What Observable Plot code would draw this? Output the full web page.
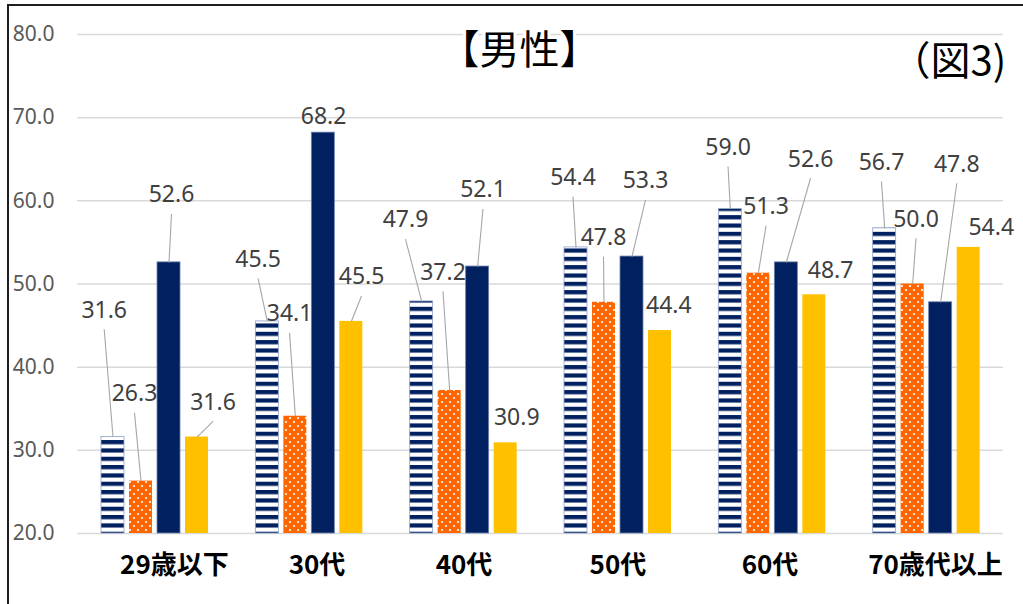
<!DOCTYPE html>
<html>
<head>
<meta charset="utf-8">
<script src="https://cdn.jsdelivr.net/npm/d3@7"></script>
<script src="https://cdn.jsdelivr.net/npm/@observablehq/plot@0.6"></script>
<style>
  body { margin: 0; background: #fff; overflow: hidden; }
  #wrap { position: relative; width: 1023px; height: 604px; }
  #frame { position: absolute; left: 7px; top: 4px; width: 1100px; height: 700px;
           border: 2px solid #1e1e1e; box-sizing: border-box; pointer-events: none; }
</style>
</head>
<body>
<div id="wrap"><div id="chart"></div><div id="frame"></div></div>
<script>
// Age groups and the four series drawn in each group
const categories = ["29歳以下", "30代", "40代", "50代", "60代", "70歳代以上"];
const stripedValues = [31.6, 45.5, 47.9, 54.4, 59.0, 56.7];
const dottedValues  = [26.3, 34.1, 37.2, 47.8, 51.3, 50.0];
const navyValues    = [52.6, 68.2, 52.1, 53.3, 52.6, 47.8];
const goldValues    = [31.6, 45.5, 30.9, 44.4, 48.7, 54.4];
const yTicks = [20, 30, 40, 50, 60, 70, 80];
const titleText = "【男性】";
const figureText = "（図3)";

// Hand-placed data labels: [dx, dy] in px from the top centre of each bar
const labelNudge = [
  [[-8.8, -126.7], [-6.5, -87.2], [2.5, -67.4], [16, -34.7]],
  [[-9.3, -62], [-5.8, -102.5], [0.2, -16.2], [10.2, -44.4]],
  [[-16.2, -81.4], [-6.7, -118.2], [5.3, -76.6], [11.1, -25.7]],
  [[-3, -69.8], [-0.5, -64.6], [13.5, -75.6], [8.8, -24.5]],
  [[-2.3, -61.6], [7.7, -66.4], [24.2, -103.1], [16.2, -24.3]],
  [[-3.2, -65.7], [3.3, -64.7], [16.1, -138], [22.6, -19.8]]
];
const categoryNudge = [19.8, 8, 0.7, 0.3, -2, 9.2];

// Layout
const W = 1023, H = 604;
const M = {top: 34, right: 20, bottom: 71, left: 77};
const unitPx = (W - M.left - M.right) / categories.length;
const pxPerValue = (H - M.top - M.bottom) / (80 - 20);
const barLeft = 24, barStep = 28, barWidth = 23;   // px inside one category slot
const fills = ["url(#hstripe)", "url(#dots)", "#002060", "#FFC000"];
const strokes = ["#8fa3c8", "none", "#6d82ad", "none"];

const seriesValues = [stripedValues, dottedValues, navyValues, goldValues];
const rows = [];
categories.forEach((cat, i) => {
  seriesValues.forEach((vals, s) => {
    const x1 = i + (barLeft + s * barStep) / unitPx;
    const x2 = x1 + barWidth / unitPx;
    const [dx, dy] = labelNudge[i][s];
    const v = vals[i];
    rows.push({
      cat, i, s, value: v, x1, x2, xc: (x1 + x2) / 2,
      lx: (x1 + x2) / 2 + dx / unitPx,
      ly: v - dy / pxPerValue,
      leaderY: v - (dy + 19) / pxPerValue,
      leader: dy < -30
    });
  });
});

const bars = [0, 1, 2, 3].map(s =>
  Plot.rectY(rows.filter(d => d.s === s), {
    x1: "x1", x2: "x2", y1: () => 20, y2: "value",
    fill: fills[s], stroke: strokes[s], strokeWidth: 0.8
  })
);

const svg = Plot.plot({
  width: W, height: H,
  marginTop: M.top, marginRight: M.right, marginBottom: M.bottom, marginLeft: M.left,
  style: {fontFamily: "'Noto Sans', sans-serif", background: "white"},
  x: {domain: [0, categories.length], axis: null},
  y: {domain: [20, 80]},
  marks: [
    Plot.gridY(yTicks, {stroke: "#d9d9d9", strokeOpacity: 1, strokeWidth: 1.5}),
    Plot.axisY(yTicks, {
      tickSize: 0, tickPadding: 23, label: null,
      tickFormat: d => d.toFixed(1), fontSize: 21, fill: "#595959"
    }),
    ...bars,
    Plot.link(rows.filter(d => d.leader), {
      x1: "lx", y1: "leaderY", x2: "xc", y2: "value",
      stroke: "#a6a6a6", strokeWidth: 1.1
    }),
    Plot.text(rows, {
      x: "lx", y: "ly", text: d => d.value.toFixed(1),
      fontSize: 23, fill: "#404040", lineAnchor: "middle"
    }),
    Plot.text(categories, {
      x: (d, i) => i + 0.5 + categoryNudge[i] / unitPx,
      frameAnchor: "bottom", dy: 32, lineAnchor: "middle",
      text: d => d, fontSize: 26, fontWeight: "bold", fill: "#000",
      fontFamily: "'Noto Sans CJK JP', sans-serif"
    }),
    Plot.text([titleText], {
      frameAnchor: "top", dx: -21, dy: 17, lineAnchor: "middle",
      text: d => d, fontSize: 40, fill: "#000",
      stroke: "white", strokeWidth: 6,
      fontFamily: "'Noto Sans CJK JP', sans-serif"
    }),
    Plot.text([figureText], {
      frameAnchor: "top-right", dx: -113, dy: 28, lineAnchor: "middle",
      textAnchor: "start",
      text: d => d, fontSize: 40, fill: "#000",
      fontFamily: "'Noto Sans CJK JP', sans-serif"
    })
  ]
});

// Bar fill patterns: navy horizontal stripes and orange with white dots
const defs = d3.select(svg).insert("defs", ":first-child");
const stripe = defs.append("pattern")
  .attr("id", "hstripe").attr("patternUnits", "userSpaceOnUse")
  .attr("width", 8).attr("height", 8.33).attr("y", 6.9);
stripe.append("rect").attr("width", 8).attr("height", 8.33).attr("fill", "#fff");
stripe.append("rect").attr("width", 8).attr("height", 4.2).attr("fill", "#002060");

const dots = defs.append("pattern")
  .attr("id", "dots").attr("patternUnits", "userSpaceOnUse")
  .attr("width", 8).attr("height", 8);
dots.append("rect").attr("width", 8).attr("height", 8).attr("fill", "#FF6600");
dots.append("circle").attr("cx", 2).attr("cy", 2).attr("r", 1.1).attr("fill", "#fff");
dots.append("circle").attr("cx", 6).attr("cy", 6).attr("r", 1.1).attr("fill", "#fff");

document.getElementById("chart").appendChild(svg);
</script>
</body>
</html>
